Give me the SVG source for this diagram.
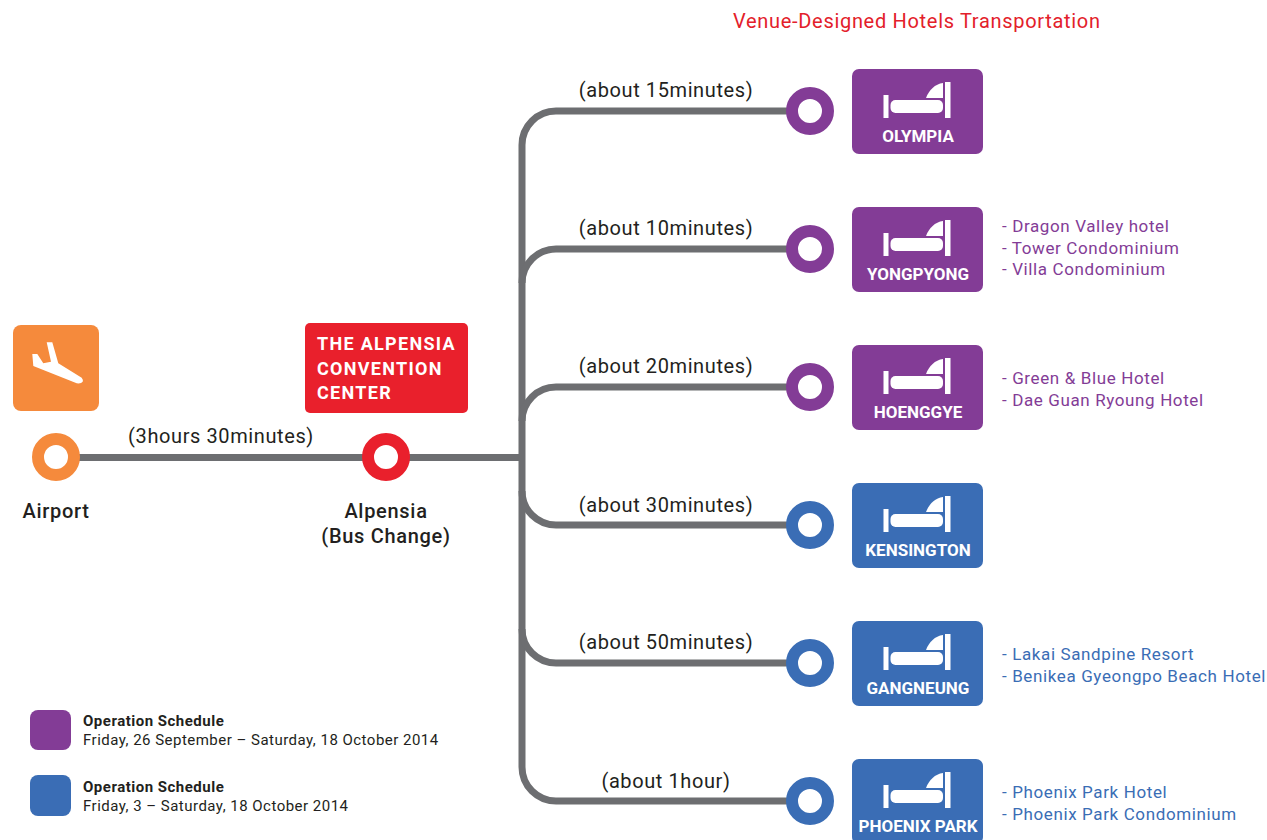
<svg xmlns="http://www.w3.org/2000/svg" xmlns:xlink="http://www.w3.org/1999/xlink" width="1267" height="840" viewBox="0 0 1267 840">
<style>
text{font-family:"Roboto","Liberation Sans",sans-serif}
.conn{fill:none;stroke:#6d6e71;stroke-width:7}
.ring{fill:#fff;stroke-width:12}
.p{fill:#833c96}.b{fill:#3a6db5}
.rp{stroke:#833c96}.rb{stroke:#3a6db5}
.rt{font-size:20px;fill:#231f20;letter-spacing:.6px}
.lbl{font-size:20px;font-weight:500;fill:#231f20;text-anchor:middle;letter-spacing:.7px}
.nm{font-size:17px;font-weight:700;fill:#fff;text-anchor:middle}
.lp{font-size:17px;fill:#833c96;letter-spacing:.62px}
.lb{font-size:17px;fill:#3a6db5;letter-spacing:.62px}
.s1{font-size:15px;font-weight:700;fill:#231f20;letter-spacing:.5px}
.s2{font-size:15px;fill:#231f20;letter-spacing:.48px}
.ct{font-size:18px;font-weight:700;fill:#fff;letter-spacing:1.3px}
</style>
<defs>
<g id="bed" fill="#fff">
<rect x="31.500" y="26" width="5" height="23"/>
<rect x="38.500" y="31" width="52.500" height="13" rx="5"/>
<rect x="93" y="13" width="5.500" height="36"/>
<path d="M74 29C77 21 83 15 91 14V29Z"/>
</g>
</defs>
<text x="733" y="28" font-size="20" fill="#e3202a" textLength="367" lengthAdjust="spacing">Venue-Designed Hotels Transportation</text>
<g id="connectors" class="conn">
<path d="M78 457.500H366"/>
<path d="M408 457.500H522"/>
<path d="M522 767V145A34 34 0 0 1 556 111H790"/>
<path d="M522 283A34 34 0 0 1 556 249H790"/>
<path d="M522 421A34 34 0 0 1 556 387H790"/>
<path d="M522 491A34 34 0 0 0 556 525H790"/>
<path d="M522 629A34 34 0 0 0 556 663H790"/>
<path d="M522 767A34 34 0 0 0 556 801H790"/>
</g>
<g id="airport">
<rect x="13" y="325" width="86" height="86" rx="8" fill="#f58a3c"/>
<path d="M46.700 342.300L52.300 342.300L58.300 363.300L81.700 377.700Q83.500 380 82.700 381.700Q81 384 76.700 383.300L33.300 366L32.300 354L37.300 354L43.300 363.300L51 361.700Z" fill="#fff"/>
<circle cx="56" cy="457" r="18" class="ring" stroke="#f58a3c"/>
<text x="56" y="518" class="lbl">Airport</text>
<text x="221" y="443" class="rt" text-anchor="middle">(3hours 30minutes)</text>
</g>
<g id="alpensia">
<rect x="305" y="323" width="163" height="90" rx="5" fill="#e9202c"/>
<text x="317" y="350" class="ct">THE ALPENSIA</text>
<text x="317" y="375" class="ct">CONVENTION</text>
<text x="317" y="399" class="ct">CENTER</text>
<circle cx="386" cy="457" r="18" class="ring" stroke="#e9202c"/>
<text x="386" y="518" class="lbl">Alpensia</text>
<text x="386" y="543" class="lbl">(Bus Change)</text>
</g>
<g id="olympia">
<text x="666" y="97" class="rt" text-anchor="middle">(about 15minutes)</text>
<circle cx="810" cy="111" r="18" class="ring rp"/>
<rect x="852" y="69" width="131" height="85" rx="7" class="p"/>
<use href="#bed" x="852" y="69"/>
<text x="918" y="142" class="nm">OLYMPIA</text>
</g>
<g id="yongpyong">
<text x="666" y="235" class="rt" text-anchor="middle">(about 10minutes)</text>
<circle cx="810" cy="249" r="18" class="ring rp"/>
<rect x="852" y="207" width="131" height="85" rx="7" class="p"/>
<use href="#bed" x="852" y="207"/>
<text x="918" y="280" class="nm">YONGPYONG</text>
<text x="1002" y="232" class="lp">- Dragon Valley hotel</text>
<text x="1002" y="254" class="lp">- Tower Condominium</text>
<text x="1002" y="275" class="lp">- Villa Condominium</text>
</g>
<g id="hoenggye">
<text x="666" y="373" class="rt" text-anchor="middle">(about 20minutes)</text>
<circle cx="810" cy="387" r="18" class="ring rp"/>
<rect x="852" y="345" width="131" height="85" rx="7" class="p"/>
<use href="#bed" x="852" y="345"/>
<text x="918" y="418" class="nm">HOENGGYE</text>
<text x="1002" y="384" class="lp">- Green &amp; Blue Hotel</text>
<text x="1002" y="406" class="lp">- Dae Guan Ryoung Hotel</text>
</g>
<g id="kensington">
<text x="666" y="512" class="rt" text-anchor="middle">(about 30minutes)</text>
<circle cx="810" cy="525" r="18" class="ring rb"/>
<rect x="852" y="483" width="131" height="85" rx="7" class="b"/>
<use href="#bed" x="852" y="483"/>
<text x="918" y="556" class="nm">KENSINGTON</text>
</g>
<g id="gangneung">
<text x="666" y="649" class="rt" text-anchor="middle">(about 50minutes)</text>
<circle cx="810" cy="663" r="18" class="ring rb"/>
<rect x="852" y="621" width="131" height="85" rx="7" class="b"/>
<use href="#bed" x="852" y="621"/>
<text x="918" y="694" class="nm">GANGNEUNG</text>
<text x="1002" y="660" class="lb">- Lakai Sandpine Resort</text>
<text x="1002" y="682" class="lb">- Benikea Gyeongpo Beach Hotel</text>
</g>
<g id="phoenix-park">
<text x="666" y="788" class="rt" text-anchor="middle">(about 1hour)</text>
<circle cx="810" cy="801" r="18" class="ring rb"/>
<rect x="852" y="759" width="131" height="85" rx="7" class="b"/>
<use href="#bed" x="852" y="759"/>
<text x="918" y="832" class="nm">PHOENIX PARK</text>
<text x="1002" y="798" class="lb">- Phoenix Park Hotel</text>
<text x="1002" y="820" class="lb">- Phoenix Park Condominium</text>
</g>
<g id="legend">
<rect x="30" y="710" width="41" height="40" rx="8" class="p"/>
<text x="83" y="726" class="s1">Operation Schedule</text>
<text x="83" y="745" class="s2">Friday, 26 September – Saturday, 18 October 2014</text>
<rect x="30" y="775" width="41" height="41" rx="8" class="b"/>
<text x="83" y="792" class="s1">Operation Schedule</text>
<text x="83" y="811" class="s2">Friday, 3 – Saturday, 18 October 2014</text>
</g>
</svg>
